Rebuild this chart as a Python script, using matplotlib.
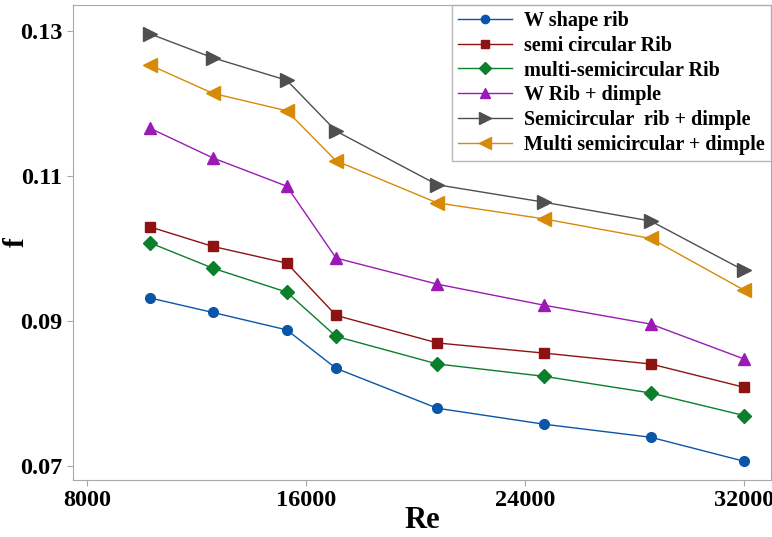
import matplotlib
matplotlib.use("Agg")
import matplotlib.pyplot as plt

# Reynolds numbers
re_values = [10300, 12600, 15300, 17100, 20800, 24700, 28600, 32000]

# friction factor per configuration
w_shape_rib = [0.0932, 0.0912, 0.0888, 0.0835, 0.0780, 0.0758, 0.0740, 0.0707]
semi_circular_rib = [0.1030, 0.1003, 0.0980, 0.0908, 0.0870, 0.0856, 0.0841, 0.0809]
multi_semicircular_rib = [0.1008, 0.0973, 0.0940, 0.0879, 0.0841, 0.0824, 0.0801, 0.0770]
w_rib_dimple = [0.1166, 0.1125, 0.1086, 0.0987, 0.0951, 0.0922, 0.0896, 0.0848]
semicircular_rib_dimple = [0.1296, 0.1263, 0.1232, 0.1162, 0.1088, 0.1064, 0.1038, 0.0970]
multi_semicircular_dimple = [0.1253, 0.1214, 0.1190, 0.1121, 0.1063, 0.1041, 0.1014, 0.0943]

labels = [
    "W shape rib",
    "semi circular Rib",
    "multi-semicircular Rib",
    "W Rib + dimple",
    "Semicircular  rib + dimple",
    "Multi semicircular + dimple",
]

series = [w_shape_rib, semi_circular_rib, multi_semicircular_rib,
          w_rib_dimple, semicircular_rib_dimple, multi_semicircular_dimple]
colors = ["#0a55a8", "#8e1212", "#0b7f2c", "#9b1ab5", "#4f4f4f", "#d68a06"]
markers = ["o", "s", "D", "^", ">", "<"]
sizes = [7, 7, 7.5, 9, 9.5, 9.5]

plt.rcParams["font.family"] = ["Liberation Serif", "DejaVu Serif"]
plt.rcParams["font.weight"] = "bold"

fig = plt.figure(figsize=(7.72, 5.37), dpi=100)
ax = fig.add_axes([0.0946, 0.106, 0.9044, 0.885])

for vals, lab, c, m, ms in zip(series, labels, colors, markers, sizes):
    ax.plot(re_values, vals, color=c, marker=m, markersize=ms, linewidth=1.0,
            label=lab)

ax.set_xlim(7490, 33000)
ax.set_ylim(0.0681, 0.1336)
ax.set_xticks([8000, 16000, 24000, 32000])
ax.set_yticks([0.07, 0.09, 0.11, 0.13])
ax.set_yticklabels(["0.07", "0.09", "0.11", "0.13"])

for s in ax.spines.values():
    s.set_color("#a8a8a8")
ax.tick_params(colors="#a8a8a8", labelcolor="black", labelsize=17.5, length=4)
for t in ax.get_xticklabels() + ax.get_yticklabels():
    t.set_fontweight("bold")

ax.set_xlabel("Re", fontsize=22, fontweight="bold", labelpad=-4)
ax.set_ylabel("f", fontsize=21, fontweight="bold")
ax.yaxis.set_label_coords(-0.062, 0.5)

leg = ax.legend(loc="upper right", fontsize=14.5, frameon=True, fancybox=False,
                borderaxespad=0.0, handlelength=2.7, labelspacing=0.24,
                handletextpad=0.6, borderpad=0.3, markerscale=0.85,
                bbox_to_anchor=(1.0, 1.0))
leg.get_frame().set_edgecolor("#a8a8a8")
leg.get_frame().set_linewidth(1.0)
for t in leg.get_texts():
    t.set_fontweight("bold")

fig.savefig("out.png", dpi=100)
